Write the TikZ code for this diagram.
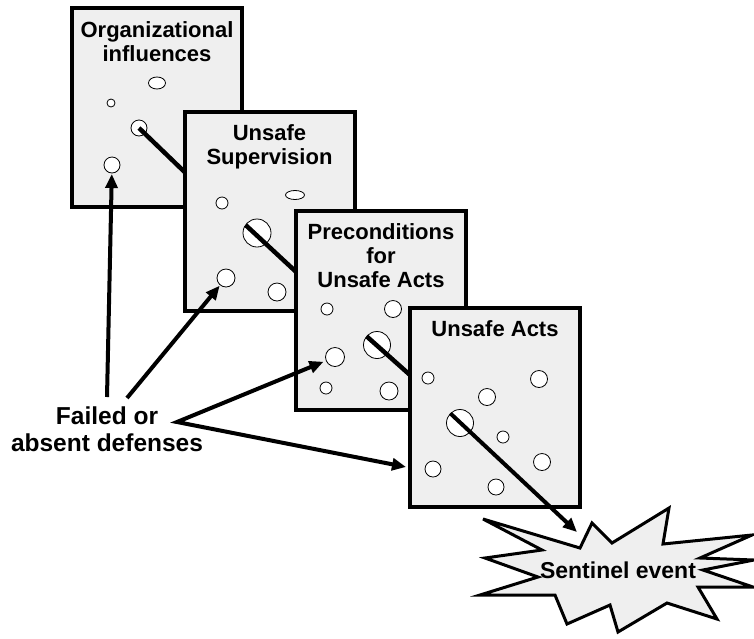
\documentclass[tikz,border=0pt]{standalone}
\usepackage{fontspec}
\setmainfont{Liberation Sans}
\usetikzlibrary{shapes.geometric,arrows.meta}
\definecolor{panelgray}{HTML}{EFEFEF}
\begin{document}
\begin{tikzpicture}[x=1pt,y=-1pt,
  panel/.style={draw=black, line width=4pt, fill=panelgray, rectangle,
    minimum width=170pt, minimum height=199pt, outer sep=0pt, inner sep=0pt},
  title/.style={font=\fontsize{22}{24}\selectfont\bfseries, align=center,
    inner sep=0pt, anchor=north},
  hole/.style={draw=black, line width=0.8pt, fill=white, circle,
    inner sep=0pt, outer sep=0pt},
  oval/.style={draw=black, line width=0.8pt, fill=white, ellipse,
    inner sep=0pt, outer sep=0pt},
  traj/.style={line width=4.5pt, line cap=butt},
  arr/.style={line width=4pt, -{Triangle[length=14pt,width=12pt]}},
  burst/.style={draw=black, line width=3pt, fill=panelgray, line join=miter},
]
\useasboundingbox (0,0) rectangle (754,638);

% ---- panel 1
\node[panel] (b1) at (157,107) {};
\node[title] (t1) at ([yshift=-14pt]b1.north) {Organizational\\influences};
\node[oval, minimum width=17pt, minimum height=12pt] (h1a) at (157,83) {};
\node[hole, minimum size=8pt] (h1b) at (111,103) {};
\node[hole, minimum size=16pt] (h1c) at (139,128) {};
\node[hole, minimum size=16pt] (h1d) at (112,165) {};
\coordinate (e1) at (196,183);
\draw[traj] (h1c.center) -- (e1);

% ---- panel 2
\node[panel] (b2) at (269.5,211) {};
\node[title] (t2) at ([yshift=-13pt]b2.north) {Unsafe\\Supervision};
\node[hole, minimum size=12pt] (h2a) at (222,203) {};
\node[oval, minimum width=19pt, minimum height=9pt] (h2b) at (295,195) {};
\node[hole, minimum size=28pt] (h2c) at (257,233) {};
\node[hole, minimum size=18pt] (h2d) at (226,278) {};
\node[hole, minimum size=18pt] (h2e) at (277,292) {};
\coordinate (e2) at (307,282);
\draw[traj] (h2c.145) -- (e2);

% ---- panel 3
\node[panel] (b3) at (381,310) {};
\node[title] (t3) at ([yshift=-13pt]b3.north) {Preconditions\\for\\Unsafe Acts};
\node[hole, minimum size=12pt] (h3a) at (327,309) {};
\node[hole, minimum size=17pt] (h3b) at (393,309) {};
\node[hole, minimum size=27pt] (h3c) at (377,345) {};
\node[hole, minimum size=19pt] (h3d) at (335,357) {};
\node[hole, minimum size=12pt] (h3e) at (326,388) {};
\node[hole, minimum size=18pt] (h3f) at (389,391) {};
\coordinate (e3) at (419,383);
\draw[traj] (h3c.140) -- (e3);

% ---- panel 4
\node[panel] (b4) at (495,407.5) {};
\node[title] (t4) at ([yshift=-12pt]b4.north) {Unsafe Acts};
\node[hole, minimum size=12pt] (h4a) at (428,378) {};
\node[hole, minimum size=17pt] (h4b) at (539,379) {};
\node[hole, minimum size=17pt] (h4c) at (487,397) {};
\node[hole, minimum size=27pt] (h4d) at (460,423) {};
\node[hole, minimum size=12pt] (h4e) at (503,437) {};
\node[hole, minimum size=16pt] (h4f) at (433,469) {};
\node[hole, minimum size=17pt] (h4g) at (542,462) {};
\node[hole, minimum size=16pt] (h4h) at (496,487) {};

% ---- sentinel event burst
\draw[burst] (483,519) -- (580,548) -- (592,523) -- (612,543) -- (669,508)
  -- (663,544) -- (752,535) -- (700,558) -- (754,560) -- (703,570)
  -- (753,587) -- (698,587) -- (717,619) -- (667,603) -- (618,632)
  -- (610,605) -- (567,624) -- (555,595) -- (480,595) -- (538,577)
  -- (485,558) -- (542,550) -- cycle;
\node[font=\fontsize{23}{26}\selectfont\bfseries, anchor=base, inner sep=0pt]
  (sent) at (618,578) {Sentinel event};
\coordinate (burstin) at (577,532);
\draw[arr] (h4d.135) -- (burstin);

% ---- failed defenses
\node[font=\fontsize{24.5}{27}\selectfont\bfseries, align=center, anchor=north,
  inner sep=0pt] (def) at (107,407) {Failed or\\absent defenses};
\coordinate (s1) at (107,397);
\coordinate (s2) at (127,398);
\coordinate (fork) at (177,422);
\coordinate (tip4) at (406,467);
\draw[arr, shorten >=1pt] (s1) -- (h1d);
\draw[arr, shorten >=1pt] (s2) -- (h2d);
\draw[line width=4pt, line join=miter,
  {Triangle[length=14pt,width=12pt]}-{Triangle[length=14pt,width=12pt]},
  shorten <=3pt] (h3d) -- (fork) -- (tip4);
\end{tikzpicture}
\end{document}
